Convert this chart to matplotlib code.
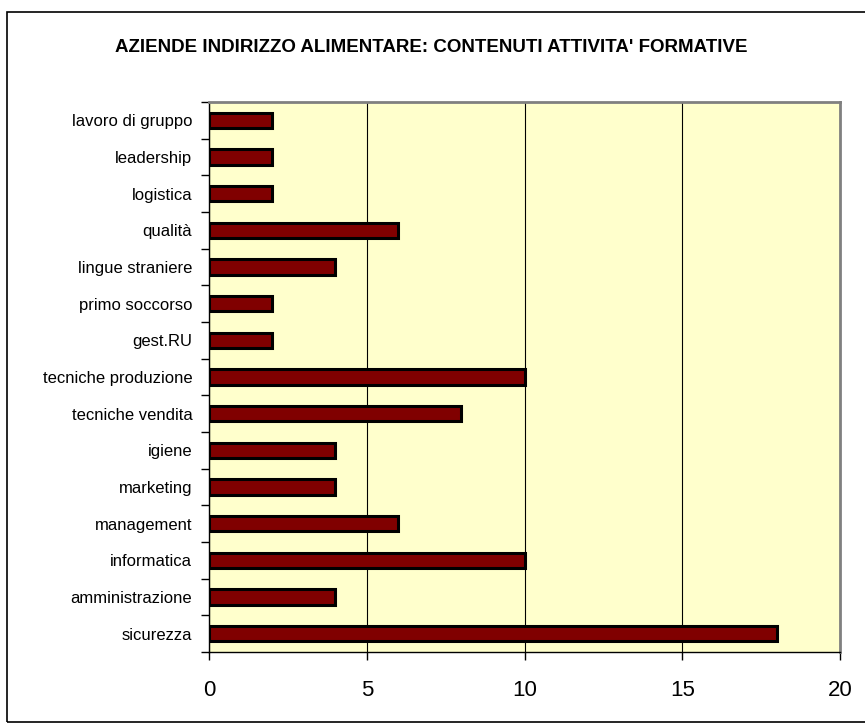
import matplotlib
matplotlib.use('Agg')
import matplotlib.pyplot as plt
from matplotlib.patches import Rectangle

# categories from bottom to top
categories = ['sicurezza', 'amministrazione', 'informatica', 'management', 'marketing',
              'igiene', 'tecniche vendita', 'tecniche produzione', 'gest.RU',
              'primo soccorso', 'lingue straniere', 'qualità', 'logistica',
              'leadership', 'lavoro di gruppo']
values = [18, 4, 10, 6, 4, 4, 8, 10, 2, 2, 4, 6, 2, 2, 2]
xticks = [0, 5, 10, 15, 20]
title = "AZIENDE INDIRIZZO ALIMENTARE: CONTENUTI ATTIVITA' FORMATIVE"

plt.rcParams['font.family'] = ['Liberation Sans', 'DejaVu Sans']

W, H = 865, 726
fig = plt.figure(figsize=(W / 100, H / 100), dpi=100)

# outer chart border
fig.patches.append(Rectangle((7 / W, 0.005), 1.0, 1 - 12 / H - 0.005, transform=fig.transFigure,
                             fill=False, edgecolor='black', linewidth=1.2))

left, right, top, bottom = 209, 840, 102, 652
ax = fig.add_axes([left / W, 1 - bottom / H, (right - left) / W, (bottom - top) / H])
ax.set_facecolor('#ffffcc')

y = range(len(categories))
ax.barh(y, values, height=0.42, color='#800000', edgecolor='black', linewidth=2.2, zorder=3)

ax.set_xlim(0, 20)
ax.set_ylim(-0.5, len(categories) - 0.5)
ax.set_xticks(xticks)
ax.set_xticklabels([str(t) for t in xticks], fontsize=16)
ax.set_yticks(list(y))
ax.set_yticklabels(categories, fontsize=12)
ax.set_yticks([i - 0.5 for i in range(len(categories) + 1)], minor=True)
ax.tick_params(axis='y', which='major', length=0, pad=12)
ax.tick_params(axis='y', which='minor', length=6, width=1, direction='out')
ax.tick_params(axis='x', length=6, width=1, direction='out', pad=14)

ax.grid(axis='x', color='black', linewidth=0.8, zorder=1)
for side in ['top', 'right']:
    ax.spines[side].set_color('#808080')
    ax.spines[side].set_linewidth(2)
for side in ['left', 'bottom']:
    ax.spines[side].set_color('black')
    ax.spines[side].set_linewidth(1)

fig.text(431 / W, 1 - 48 / H, title, ha='center', va='center',
         fontsize=13.5, fontweight='bold')

fig.savefig('out.png', dpi=100)
